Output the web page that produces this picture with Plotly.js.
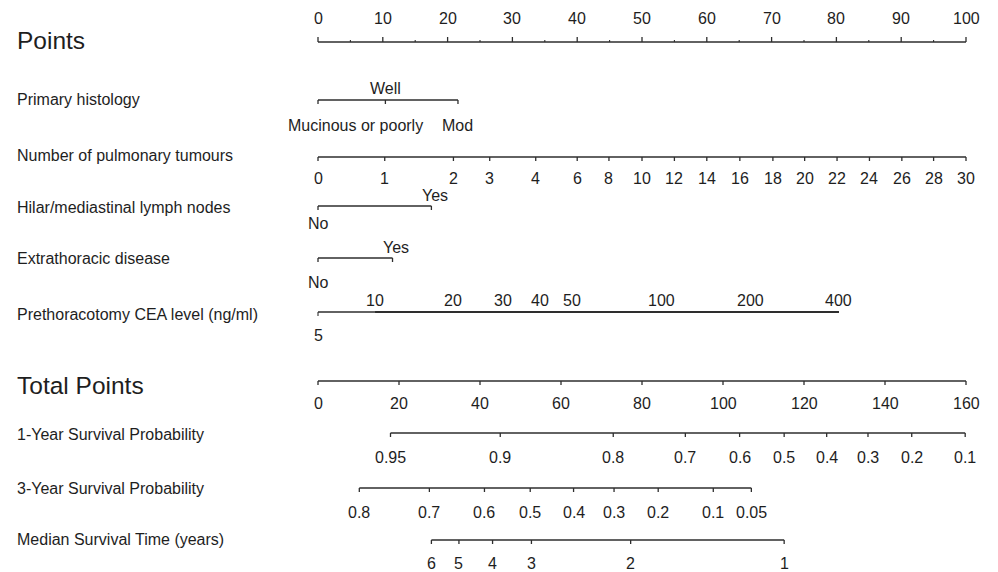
<!DOCTYPE html>
<html>
<head>
<meta charset="utf-8">
<script src="https://cdn.plot.ly/plotly-3.0.1.min.js"></script>
<style>html,body{margin:0;padding:0;background:#fff;}#chart{width:998px;height:572px;}</style>
</head>
<body>
<div id="chart"></div>
<script>
// ---- data ----
const rowNames = ['Primary histology','Number of pulmonary tumours','Hilar/mediastinal lymph nodes','Extrathoracic disease','Prethoracotomy CEA level (ng/ml)','1-Year Survival Probability','3-Year Survival Probability','Median Survival Time (years)'];
const pointsTicks = [0,10,20,30,40,50,60,70,80,90,100];
const pointsMinor = [5,15,25,35,45,55,65,75,85,95];
const histLabels = ['Mucinous or poorly','Well','Mod'];
const histPoints = [0,10.4,21.6];
const tumourLabels = ['0','1','2','3','4','6','8','10','12','14','16','18','20','22','24','26','28','30'];
const tumourPoints = [0,10.3,20.9,26.5,33.6,40,44.9,50,55,60,65.1,70.2,75.1,80.1,85.1,90.1,95,100];
const hilarLabels = ['No','Yes'];
const hilarPoints = [0,17.5];
const extraLabels = ['No','Yes'];
const extraPoints = [0,11.5];
const ceaLabels = ['5','10','20','30','40','50','100','200','400'];
const ceaPoints = [0,8.8,20.8,28.6,34.2,39.2,53,66.8,80.4];
const totalTicks = [0,20,40,60,80,100,120,140,160];
const surv1Labels = ['0.95','0.9','0.8','0.7','0.6','0.5','0.4','0.3','0.2','0.1'];
const surv1Total = [17.9,45,72.9,90.7,104.1,115.1,125.6,135.8,146.6,159.8];
const surv3Labels = ['0.8','0.7','0.6','0.5','0.4','0.3','0.2','0.1','0.05'];
const surv3Total = [10.2,27.5,41.1,52.4,63.1,73.1,84,97.6,107];
const medLabels = ['6','5','4','3','2','1'];
const medTotal = [28,34.8,43.1,52.7,77.2,115.1];

// ---- layout helpers ----
const W = 998, H = 572;
const X0 = 318, PPU = 6.48;                  // pixel of 0 points, px per point
const xr = [-X0 / PPU, (W - X0) / PPU];
const tp = v => v * 100 / 160;               // total points -> points scale
const LINE = '#2e2e2e', TXT = '#1e1e1e';
const FONT = 'Liberation Sans, Arial, sans-serif';
const TS = 16;   // tick label size
const RS = 16;   // row label size
const BS = 24.5; // big label size

const traces = [];
const ann = [];

function axisLine(xs, y, dir, len, width) {
  const x = [], yy = [];
  x.push(Math.min(...xs), Math.max(...xs), null); yy.push(y, y, null);
  xs.forEach(v => { x.push(v, v, null); yy.push(y, y + dir * len, null); });
  traces.push({type:'scatter', mode:'lines', x:x, y:yy, hoverinfo:'skip',
    line:{color:LINE, width:width || 1.3}, showlegend:false});
}
function ticksOnly(xs, y, dir, len) {
  const x = [], yy = [];
  xs.forEach(v => { x.push(v, v, null); yy.push(y, y + dir * len, null); });
  traces.push({type:'scatter', mode:'lines', x:x, y:yy, hoverinfo:'skip',
    line:{color:LINE, width:1.1}, showlegend:false});
}
function plainLine(x1, x2, y, width) {
  traces.push({type:'scatter', mode:'lines', x:[x1, x2], y:[y, y], hoverinfo:'skip',
    line:{color:LINE, width:width}, showlegend:false});
}
function label(text, x, y, size, anchor) {
  ann.push({text:String(text), x:x, y:y, xref:'x', yref:'y', showarrow:false,
    xanchor:anchor || 'center', yanchor:'middle', font:{family:FONT, size:size || TS, color:TXT}});
}
function rowLabel(text, y, size) {
  ann.push({text:text, x:15 / W, y:y, xref:'paper', yref:'y', showarrow:false,
    xanchor:'left', yanchor:'middle', font:{family:FONT, size:size || RS, color:TXT}});
}

// Points
rowLabel('Points', 40, BS);
axisLine(pointsTicks, 42, -1, 5);
ticksOnly(pointsMinor, 42, -1, 2);
pointsTicks.forEach(v => label(v, v, 18));

// Primary histology
rowLabel(rowNames[0], 99);
axisLine(histPoints, 100, 1, 4);
label(histLabels[1], histPoints[1], 88);
label(histLabels[0], histPoints[0] + 16.5, 125, TS, 'right');
label(histLabels[2], histPoints[2], 125);

// Number of pulmonary tumours
rowLabel(rowNames[1], 155);
axisLine(tumourPoints, 157, 1, 4);
tumourLabels.forEach((t, i) => label(t, tumourPoints[i], 178));

// Hilar/mediastinal lymph nodes
rowLabel(rowNames[2], 207);
axisLine(hilarPoints, 206, 1, 4);
label(hilarLabels[0], hilarPoints[0], 223);
label(hilarLabels[1], hilarPoints[1] + 0.6, 195);

// Extrathoracic disease
rowLabel(rowNames[3], 258);
axisLine(extraPoints, 258, 1, 4);
label(extraLabels[0], extraPoints[0], 282);
label(extraLabels[1], extraPoints[1] + 0.6, 247);

// CEA
rowLabel(rowNames[4], 314);
plainLine(ceaPoints[0], ceaPoints[1], 312, 1.3);
ticksOnly([ceaPoints[0]], 312, 1, 4);
plainLine(ceaPoints[1], ceaPoints[ceaPoints.length - 1], 312, 2.2);
ceaLabels.forEach((t, i) => { if (i > 0) label(t, ceaPoints[i], 300); });
label(ceaLabels[0], ceaPoints[0], 335);

// Total Points
rowLabel('Total Points', 385, BS);
axisLine(totalTicks.map(tp), 381, 1, 4);
totalTicks.forEach(v => label(v, tp(v), 403));

// 1-year
rowLabel(rowNames[5], 434);
axisLine(surv1Total.map(tp), 433, 1, 4);
surv1Labels.forEach((t, i) => label(t, tp(surv1Total[i]), 457));

// 3-year
rowLabel(rowNames[6], 488);
axisLine(surv3Total.map(tp), 488, 1, 4);
surv3Labels.forEach((t, i) => label(t, tp(surv3Total[i]), 512));

// Median survival
rowLabel(rowNames[7], 539);
axisLine(medTotal.map(tp), 540, 1, 4);
medLabels.forEach((t, i) => label(t, tp(medTotal[i]), 563));

const layout = {
  width: W, height: H,
  margin: {l:0, r:0, t:0, b:0},
  paper_bgcolor: '#ffffff', plot_bgcolor: '#ffffff',
  xaxis: {range: xr, visible: false, fixedrange: true},
  yaxis: {range: [H, 0], visible: false, fixedrange: true},
  showlegend: false,
  annotations: ann
};
Plotly.newPlot('chart', traces, layout, {staticPlot: true, displayModeBar: false});
</script>
</body>
</html>
